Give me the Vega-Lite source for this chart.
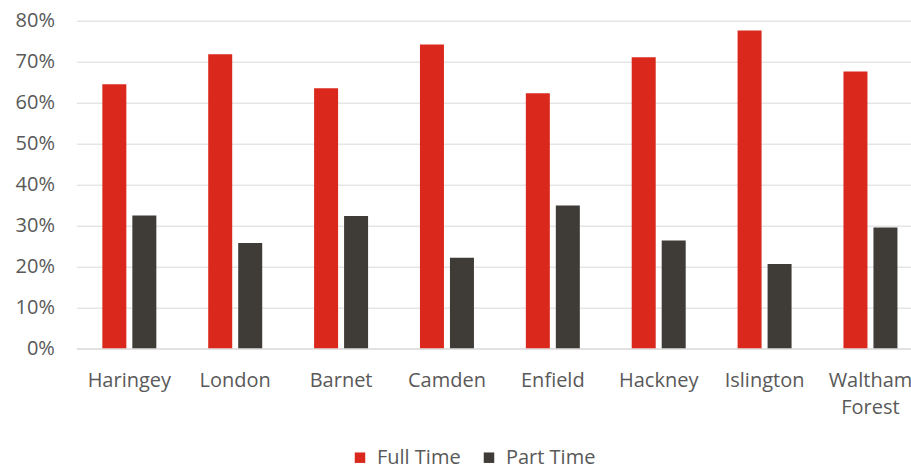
{
  "$schema": "https://vega.github.io/schema/vega-lite/v6.json",
  "width": 847,
  "height": 327.6,
  "autosize": {"type": "none"},
  "padding": {"left": 76.4, "top": 20.7, "right": 0, "bottom": 117},
  "background": "white",
  "config": {
    "view": {"stroke": null},
    "font": "Open Sans"
  },
  "data": {
    "values": [
      {"area": "Haringey", "type": "Full Time", "value": 0.645},
      {"area": "Haringey", "type": "Part Time", "value": 0.324},
      {"area": "London", "type": "Full Time", "value": 0.718},
      {"area": "London", "type": "Part Time", "value": 0.257},
      {"area": "Barnet", "type": "Full Time", "value": 0.635},
      {"area": "Barnet", "type": "Part Time", "value": 0.323},
      {"area": "Camden", "type": "Full Time", "value": 0.742},
      {"area": "Camden", "type": "Part Time", "value": 0.221},
      {"area": "Enfield", "type": "Full Time", "value": 0.623},
      {"area": "Enfield", "type": "Part Time", "value": 0.349},
      {"area": "Hackney", "type": "Full Time", "value": 0.711},
      {"area": "Hackney", "type": "Part Time", "value": 0.263},
      {"area": "Islington", "type": "Full Time", "value": 0.776},
      {"area": "Islington", "type": "Part Time", "value": 0.206},
      {"area": "Waltham Forest", "type": "Full Time", "value": 0.676},
      {"area": "Waltham Forest", "type": "Part Time", "value": 0.295}
    ]
  },
  "mark": {"type": "bar"},
  "encoding": {
    "x": {
      "field": "area",
      "type": "nominal",
      "sort": ["Haringey", "London", "Barnet", "Camden", "Enfield", "Hackney", "Islington", "Waltham Forest"],
      "scale": {"paddingInner": 0.49, "paddingOuter": 0.245},
      "axis": {
        "title": null,
        "labelAngle": 0,
        "labelFontSize": 20,
        "labelColor": "#595959",
        "labelPadding": 22,
        "labelLineHeight": 27,
        "ticks": false,
        "domain": true,
        "domainColor": "#d9d9d9",
        "domainWidth": 1,
        "grid": false,
        "labelExpr": "datum.value == 'Waltham Forest' ? ['Waltham', 'Forest'] : datum.value"
      }
    },
    "xOffset": {
      "field": "type",
      "type": "nominal",
      "scale": {"paddingInner": 0.2, "paddingOuter": 0}
    },
    "y": {
      "field": "value",
      "type": "quantitative",
      "scale": {"domain": [0, 0.8], "nice": false},
      "axis": {
        "title": null,
        "values": [0, 0.1, 0.2, 0.3, 0.4, 0.5, 0.6, 0.7, 0.8],
        "format": ".0%",
        "labelFontSize": 20,
        "labelColor": "#595959",
        "labelPadding": 22,
        "ticks": false,
        "domain": false,
        "grid": true,
        "gridColor": "#d9d9d9",
        "gridWidth": 1
      }
    },
    "color": {
      "field": "type",
      "type": "nominal",
      "scale": {"domain": ["Full Time", "Part Time"], "range": ["#DA291C", "#3F3B37"]},
      "legend": {
        "title": null,
        "orient": "none",
        "direction": "horizontal",
        "legendX": 273.6,
        "legendY": 427,
        "symbolType": "square",
        "symbolSize": 110,
        "symbolStrokeWidth": 0,
        "labelFontSize": 20,
        "labelColor": "#595959",
        "labelOffset": 7,
        "columnPadding": 18
      }
    }
  }
}
